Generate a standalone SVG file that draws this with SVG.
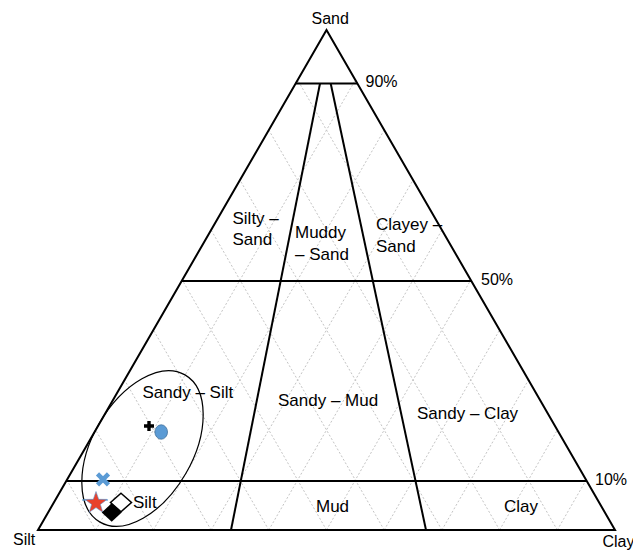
<svg xmlns="http://www.w3.org/2000/svg" width="633" height="551" viewBox="0 0 633 551">
<style>
.grid{stroke:#c4c4c4;stroke-width:1;stroke-dasharray:2 2;fill:none}
.ln{stroke:#000;stroke-width:2;fill:none}
text{font-family:"Liberation Sans",Arial,sans-serif;font-size:16px;fill:#000}
.in{font-size:17px}
</style>
<rect width="633" height="551" fill="#fff"/>
<g id="grid">
<line class="grid" x1="95.7" y1="530" x2="355.35" y2="80"/>
<line class="grid" x1="153.4" y1="530" x2="384.2" y2="130"/>
<line class="grid" x1="211.1" y1="530" x2="413.05" y2="180"/>
<line class="grid" x1="268.8" y1="530" x2="441.9" y2="230"/>
<line class="grid" x1="326.5" y1="530" x2="470.75" y2="280"/>
<line class="grid" x1="384.2" y1="530" x2="499.6" y2="330"/>
<line class="grid" x1="441.9" y1="530" x2="528.45" y2="380"/>
<line class="grid" x1="499.6" y1="530" x2="557.3" y2="430"/>
<line class="grid" x1="557.3" y1="530" x2="586.15" y2="480"/>
<line class="grid" x1="95.7" y1="530" x2="66.85" y2="480"/>
<line class="grid" x1="153.4" y1="530" x2="95.7" y2="430"/>
<line class="grid" x1="211.1" y1="530" x2="124.55" y2="380"/>
<line class="grid" x1="268.8" y1="530" x2="153.4" y2="330"/>
<line class="grid" x1="326.5" y1="530" x2="182.25" y2="280"/>
<line class="grid" x1="384.2" y1="530" x2="211.1" y2="230"/>
<line class="grid" x1="441.9" y1="530" x2="239.95" y2="180"/>
<line class="grid" x1="499.6" y1="530" x2="268.8" y2="130"/>
<line class="grid" x1="557.3" y1="530" x2="297.65" y2="80"/>
</g>
<g id="connectors">
<polygon class="ln" points="38,530 615,530 326.5,30"/>
<line class="ln" x1="295.6" y1="83.5" x2="357.4" y2="83.5"/>
<line class="ln" x1="181.7" y1="281" x2="471.3" y2="281"/>
<line class="ln" x1="66.5" y1="481" x2="586.5" y2="481"/>
<line class="ln" x1="320" y1="83.5" x2="231" y2="530"/>
<line class="ln" x1="330.7" y1="83.5" x2="426" y2="530"/>
</g>
<g id="labels">
<text x="311.5" y="24">Sand</text>
<text x="365.5" y="87">90%</text>
<text x="481" y="284.5">50%</text>
<text x="595" y="485">10%</text>
<text x="13" y="545">Silt</text>
<text x="602.5" y="547">Clay</text>
<text class="in" x="232.5" y="224">Silty –</text>
<text class="in" x="232.5" y="245">Sand</text>
<text class="in" x="295" y="237.5">Muddy</text>
<text class="in" x="295" y="259.5">– Sand</text>
<text class="in" x="376" y="230">Clayey –</text>
<text class="in" x="376" y="251.5">Sand</text>
<text class="in" x="142.5" y="397.5">Sandy – Silt</text>
<text class="in" x="278" y="405.5">Sandy – Mud</text>
<text class="in" x="417" y="418.5">Sandy – Clay</text>
<text class="in" x="316" y="511.5">Mud</text>
<text class="in" x="504" y="511.5">Clay</text>
<text class="in" x="133" y="508">Silt</text>
</g>
<g id="ellipse">
<ellipse cx="142.5" cy="448.5" rx="85" ry="50" transform="rotate(-60 142.5 448.5)" fill="none" stroke="#000" stroke-width="1.2"/>
</g>
<g id="markers">
<path d="M144 426H154M149 421V431" stroke="#000" stroke-width="3.4"/>
<ellipse cx="161.2" cy="432" rx="6.3" ry="7.2" fill="#5b9bd5" stroke="#41719c" stroke-width="0.8"/>
<path d="M97.5 473.8L108.5 484.8M108.5 473.8L97.5 484.8" stroke="#5b9bd5" stroke-width="4.5"/>
<line x1="82" y1="500" x2="108" y2="500" stroke="#5b9bd5" stroke-width="1.2"/>
<polygon points="96,491.5 98.7,499.3 107,499.4 100.4,504.4 102.8,512.3 96,507.6 89.2,512.3 91.6,504.4 85,499.4 93.3,499.3" fill="#e8412c" stroke="#5b9bd5" stroke-width="0.6"/>
<polygon points="121,493.3 131.5,502.5 121,511.7 110.5,502.5" fill="#fff" stroke="#000" stroke-width="1.5"/>
<polygon points="111.7,503.3 121.7,512.5 111.7,521.7 101.7,512.5" fill="#000"/>
</g>
</svg>
